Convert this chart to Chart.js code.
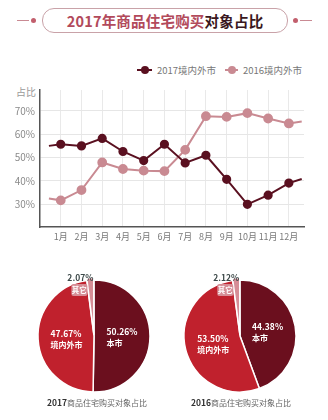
<!DOCTYPE html>
<html>
<head>
<meta charset="utf-8">
<script src="https://cdn.jsdelivr.net/npm/chart.js@4"></script>
<style>
  html, body { margin: 0; padding: 0; background: #fff; }
  body { width: 328px; height: 420px; position: relative; overflow: hidden;
         font-family: "Noto Sans CJK SC", "Noto Sans", sans-serif; }
  .abs { position: absolute; }
  .title-box { left: 42px; top: 8px; width: 244px; height: 23px; border: 1px solid #c9a2a8;
               border-radius: 12px; text-align: center; line-height: 23px;
               font-size: 14.5px; font-weight: 700; letter-spacing: 0.2px; }
  .title-box .a { color: #b24a5b; }
  .title-box .b { color: #3a1820; }
  .deco-line { height: 1px; background: #c98a93; top: 20px; width: 12px; }
  .deco-dot { width: 5px; height: 5px; border-radius: 50%; background: #c25f6d; top: 18px; }
  .legend { top: 63px; font-size: 9.5px; color: #777; line-height: 14px; white-space: nowrap; }
  .legend i { display: inline-block; position: relative; width: 15px; height: 14px; vertical-align: top; margin-right: 5px; }
  .legend i::before { content: ''; position: absolute; left: 0; right: 0; top: 6px; height: 2px; background: var(--c); }
  .legend i::after { content: ''; position: absolute; left: 50%; top: 7px; width: 8px; height: 8px; margin: -4px 0 0 -4px;
                     border-radius: 50%; background: var(--c); }
  .ylabel { left: 14px; top: 84px; width: 22px; text-align: right; font-size: 10px; color: #9a9a9a; }
  .caption { top: 396px; font-size: 8px; color: #666; text-align: center; width: 130px; white-space: nowrap; }
  .caption b { color: #333; font-size: 8.5px; }
</style>
</head>
<body>
<div class="abs deco-line" style="left:17px"></div>
<div class="abs deco-dot" style="left:31px"></div>
<div class="abs title-box"><span class="a">2017年商品住宅购买</span><span class="b">对象占比</span></div>
<div class="abs deco-dot" style="left:293px"></div>
<div class="abs deco-line" style="left:300px"></div>

<div class="abs legend" style="left:137px"><i style="--c:#5a1020"></i>2017境内外市</div>
<div class="abs legend" style="left:225px"><i style="--c:#c98a92;width:13px"></i>2016境内外市</div>
<div class="abs ylabel">占比</div>

<canvas id="line-chart" class="abs" style="left:0;top:50px" width="328" height="200"></canvas>
<canvas id="pie-2017" class="abs" style="left:19px;top:261px" width="150" height="150"></canvas>
<canvas id="pie-2016" class="abs" style="left:165px;top:261px" width="150" height="150"></canvas>

<div class="abs caption" style="left:32px"><b>2017</b>商品住宅购买对象占比</div>
<div class="abs caption" style="left:176px"><b>2016</b>商品住宅购买对象占比</div>

<script>
const months = ['1月', '2月', '3月', '4月', '5月', '6月', '7月', '8月', '9月', '10月', '11月', '12月'];
const yTicks = [30, 40, 50, 60, 70];

// monthly share of buyers from outside the city, %
const share2017 = [55.7, 55.0, 58.2, 52.6, 48.7, 55.7, 47.7, 51.0, 40.7, 30.0, 33.9, 39.1];
const share2016 = [31.7, 36.1, 47.9, 45.1, 44.4, 44.2, 53.3, 67.7, 67.4, 69.0, 66.7, 64.6];
// the lines run on past the first and last month
const edgeX = [0.43, 12.62];
const edge2017 = [55.0, 40.8];
const edge2016 = [32.5, 65.4];

// buyer mix pies
const pieLabels = ['本市', '境内外市', '其它'];
const pie2017 = [50.26, 47.67, 2.07];
const pie2016 = [44.38, 53.50, 2.12];
const pieColors = ['#6b0f1e', '#c0212d', '#d68d96'];

const FONT = '"Noto Sans CJK SC", "Noto Sans", sans-serif';

function toPoints(values, edges) {
  const pts = values.map((v, i) => ({ x: i + 1, y: v }));
  return [{ x: edgeX[0], y: edges[0] }, ...pts, { x: edgeX[1], y: edges[1] }];
}

const edgeRadius = (r) => (ctx) => (ctx.dataIndex === 0 || ctx.dataIndex === months.length + 1 ? 0 : r);

new Chart(document.getElementById('line-chart').getContext('2d'), {
  type: 'line',
  data: {
    datasets: [
      {
        label: '2017境内外市',
        data: toPoints(share2017, edge2017),
        borderColor: '#5a1020',
        backgroundColor: '#5a1020',
        borderWidth: 2,
        pointRadius: edgeRadius(3.6),
        tension: 0,
      },
      {
        label: '2016境内外市',
        data: toPoints(share2016, edge2016),
        borderColor: '#c98a92',
        backgroundColor: '#c98a92',
        borderWidth: 2,
        pointRadius: edgeRadius(3.9),
        tension: 0,
      },
    ],
  },
  options: {
    responsive: false,
    animation: false,
    layout: { padding: { top: 40, right: 24, left: 0, bottom: 0 } },
    plugins: { legend: { display: false }, tooltip: { enabled: false } },
    scales: {
      x: {
        type: 'linear',
        min: 0,
        max: 12.73,
        afterBuildTicks(scale) { scale.ticks = months.map((m, i) => ({ value: i + 1 })); },
        afterFit(scale) { scale.height = 23; },
        ticks: {
          autoSkip: false,
          maxRotation: 0,
          minRotation: 0,
          padding: 4,
          color: '#7a7a7a',
          font: { family: FONT, size: 9 },
          callback: (v) => months[v - 1],
        },
        grid: { color: '#e9e9e9', drawTicks: false },
        border: { color: '#555', width: 1.5 },
      },
      y: {
        min: 20.3,
        max: 78.9,
        afterBuildTicks(scale) { scale.ticks = yTicks.map(v => ({ value: v })); },
        afterFit(scale) { scale.width = 40; },
        ticks: {
          padding: 5,
          color: '#8a8a8a',
          font: { family: FONT, size: 10 },
          callback: (v) => v + '%',
        },
        grid: { color: '#e6e6e6', drawTicks: false },
        border: { color: '#555', width: 1.5 },
      },
    },
  },
});

// white value/name labels inside the slices, small-slice tag above the pie
const pieLabelPlugin = {
  id: 'pieLabels',
  afterDatasetsDraw(chart) {
    const { ctx } = chart;
    const meta = chart.getDatasetMeta(0);
    const values = chart.data.datasets[0].data;
    ctx.save();
    ctx.textBaseline = 'middle';
    [0, 1].forEach(i => {
      const p = meta.data[i].tooltipPosition();
      ctx.fillStyle = '#fff';
      ctx.textAlign = 'left';
      ctx.font = `700 8.5px ${FONT}`;
      const pct = values[i].toFixed(2) + '%';
      const w = ctx.measureText(pct).width;
      const x0 = p.x - w / 2;
      ctx.fillText(pct, x0, p.y - 4);
      ctx.font = `700 8px ${FONT}`;
      ctx.fillText(chart.data.labels[i], x0, p.y + 7);
    });
    // 其它
    const arc = meta.data[2];
    const cx = arc.x, cy = arc.y;
    const mid = (arc.startAngle + arc.endAngle) / 2;
    const r = arc.outerRadius;
    const tipX = cx + Math.cos(mid) * r;
    const tipY = cy + Math.sin(mid) * r;
    ctx.fillStyle = pieColors[2];
    ctx.beginPath();
    ctx.roundRect(tipX - 19, tipY + 4, 16, 12, 2);
    ctx.fill();
    ctx.fillStyle = '#fff';
    ctx.textAlign = 'center';
    ctx.font = `700 7.5px ${FONT}`;
    ctx.fillText(chart.data.labels[2], tipX - 11, tipY + 10.5);
    ctx.fillStyle = '#3d4a4a';
    ctx.font = `700 8.5px ${FONT}`;
    ctx.fillText(values[2].toFixed(2) + '%', tipX - 10, tipY - 2);
    ctx.restore();
  },
};

function renderPie(id, values) {
  new Chart(document.getElementById(id).getContext('2d'), {
    type: 'pie',
    data: {
      labels: pieLabels,
      datasets: [{
        data: values,
        backgroundColor: pieColors,
        borderColor: '#fff',
        borderWidth: 1.5,
        offset: [0, 0, 5],
      }],
    },
    options: {
      responsive: false,
      animation: false,
      radius: 56,
      plugins: { legend: { display: false }, tooltip: { enabled: false } },
    },
    plugins: [pieLabelPlugin],
  });
}

renderPie('pie-2017', pie2017);
renderPie('pie-2016', pie2016);
</script>
</body>
</html>
